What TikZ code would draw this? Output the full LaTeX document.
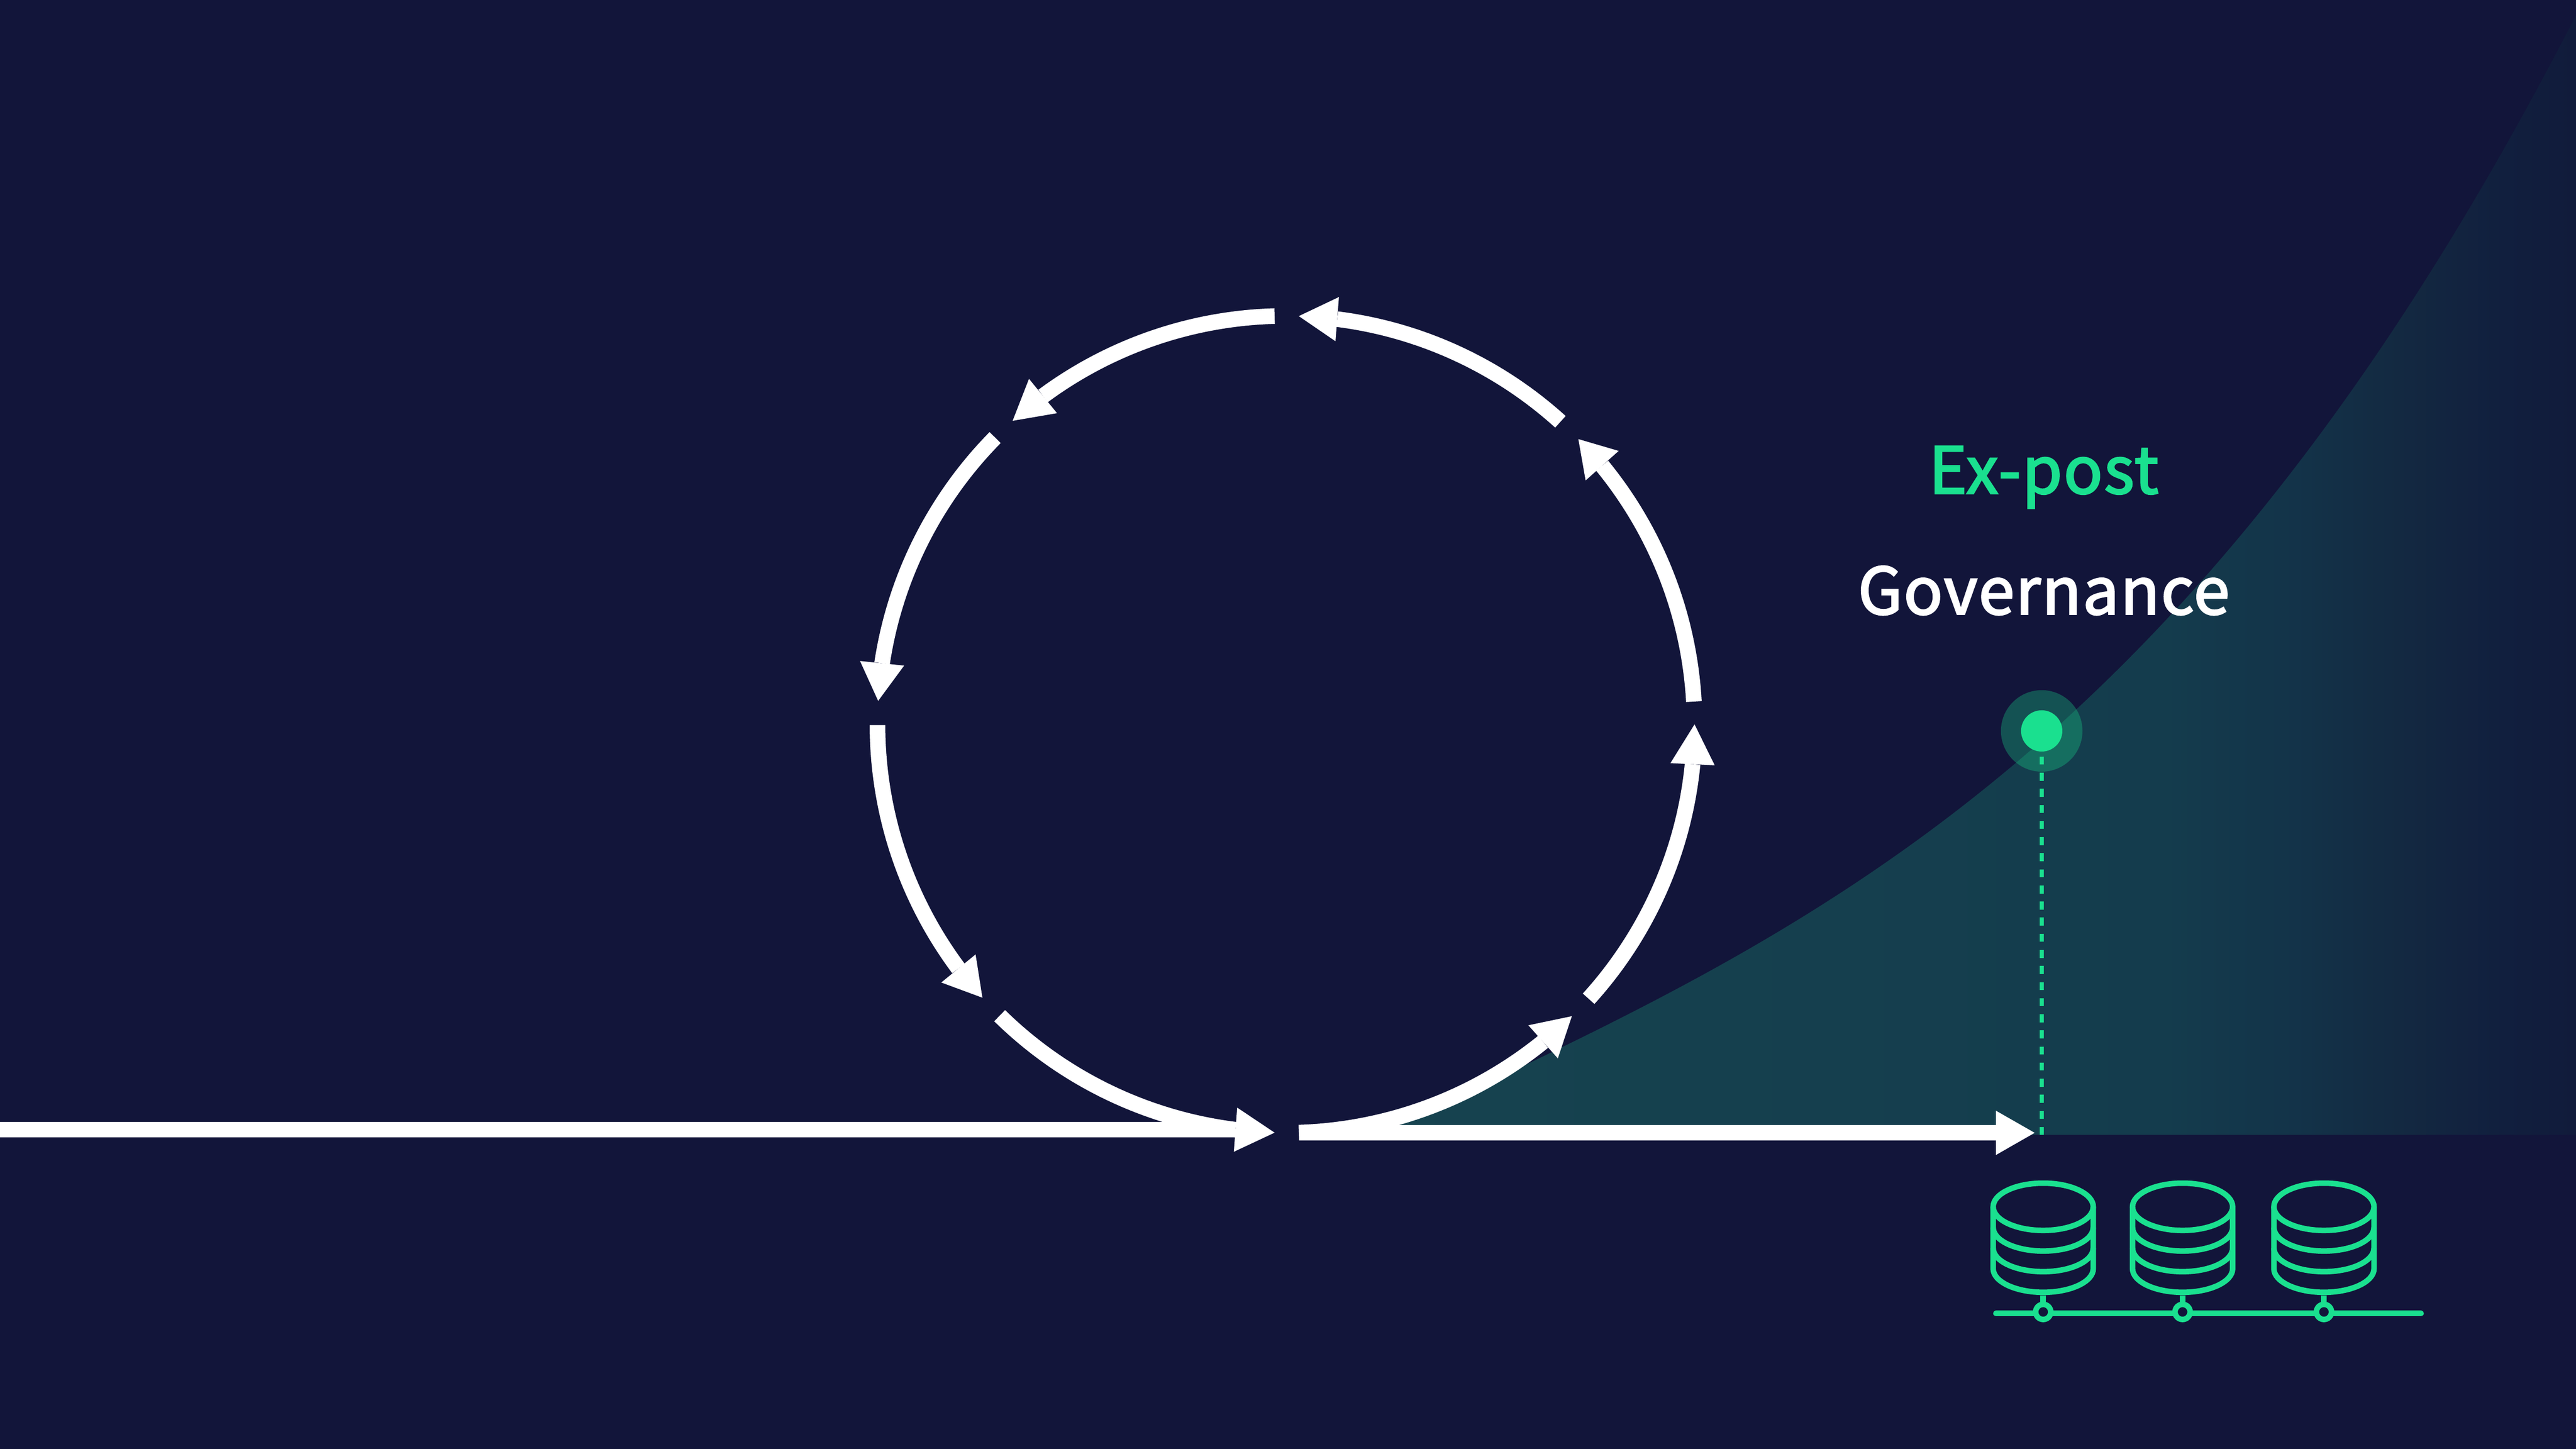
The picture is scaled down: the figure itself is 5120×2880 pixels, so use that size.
\documentclass[tikz,border=0pt]{standalone}
\usepackage{fontspec}
\newfontfamily\labfont[FakeBold=2.5,LetterSpace=2]{Noto Sans CJK JP}
\usetikzlibrary{calc}
\definecolor{bgc}{RGB}{18,21,58}
\definecolor{grn}{RGB}{26,224,143}
\definecolor{tealA}{RGB}{22,67,79}
\definecolor{tealB}{RGB}{20,60,77}
\definecolor{tealC}{RGB}{19,51,73}
\definecolor{tealD}{RGB}{19,41,65}
\definecolor{tealE}{RGB}{17,31,62}
\definecolor{tealF}{RGB}{17,27,59}
\pgfdeclarehorizontalshading{tealfade}{100bp}{color(0bp)=(tealA); color(25bp)=(tealA); color(57.8bp)=(tealB); color(63.3bp)=(tealC); color(67.6bp)=(tealD); color(72bp)=(tealE); color(75bp)=(tealF); color(100bp)=(tealF)}
\tikzset{
  arcline/.style={draw=white,line width=0.31cm},
  headfill/.style={fill=white,draw=none},
  dbline/.style={draw=grn,line width=0.11cm},
  lab/.style={inner sep=0pt,anchor=base,font=\labfont\fontsize{36.5pt}{40pt}\selectfont},
}
% #1 arc start angle, #2 shaft-end angle, #3 tip angle
\newcommand{\looparrow}[3]{%
  \draw[arcline] ([shift={(2556,1440)}]#1:812) arc[start angle=#1,end angle=#2,radius=812];
  \coordinate (B) at ([shift={(2556,1440)}]#2:812);
  \coordinate (T) at ([shift={(2556,1440)}]#3:812);
  \fill[headfill] (T) -- ($(B)!0.44cm!90:(T)$) -- ($(B)!0.44cm!-90:(T)$) -- cycle;
}
% #1 x centre
\newcommand{\dbicon}[1]{%
  \begin{scope}[shift={(#1,0)}]
    \draw[dbline] (0,481) ellipse[x radius=99.5,y radius=47];
    \draw[dbline] (-99.5,481) -- (-99.5,358) arc[start angle=180,end angle=360,x radius=99.5,y radius=47] -- (99.5,481);
    \draw[dbline] (-99.5,440) arc[start angle=180,end angle=360,x radius=99.5,y radius=47];
    \draw[dbline] (-99.5,399) arc[start angle=180,end angle=360,x radius=99.5,y radius=47];
    \draw[dbline] (0,305) -- (0,287);
    \draw[dbline,fill=bgc] (0,272) circle[radius=15];
  \end{scope}
}
\begin{document}
\begin{tikzpicture}[x=0.01cm,y=0.01cm]
\useasboundingbox (0,0) rectangle (5120,2880);
\fill[bgc] (0,0) rectangle (5120,2880);
% teal area
\shade[shading=tealfade] (2740,624) .. controls (3533,1005) and (4327,1305) .. (5120,2850) -- (5120,624) -- cycle;
% dashed drop line
\draw[grn,line width=0.09cm,dash pattern=on 0.16cm off 0.16cm] (4058,1376) -- (4058,624);
% dot
\fill[grn,opacity=0.3] (4058,1427) circle[radius=81];
\node[circle,fill=grn,minimum size=0.82cm,inner sep=0pt] (dot) at (4058,1427) {};
% labels
\node[lab,text=grn] (expost) at (4062,1899) {Ex-post};
\node[lab,text=white] (gov) at (4062,1659) {Governance};
% straight lines
\draw[arcline] (0,634.5) -- (2456,634.5);
\draw[arcline] (2582,628) -- (3967,628);
\coordinate (hb) at (3967,628);
\coordinate (ht) at (4044,628);
\fill[headfill] (ht) -- ($(hb)!0.44cm!90:(ht)$) -- ($(hb)!0.44cm!-90:(ht)$) -- cycle;
% loop
\looparrow{-88.2}{-51}{-45.6}
\looparrow{-42.2}{-5.6}{0}
\looparrow{3.2}{39.3}{44.3}
\looparrow{47.8}{82.8}{88.2}
\looparrow{91.6}{126.5}{132}
\looparrow{135.4}{171.4}{176.7}
\looparrow{180.1}{216.7}{222}
\looparrow{225.5}{262.9}{268.4}
% databases
\draw[dbline,line cap=round] (3967,269) -- (4812,269);
\dbicon{4061}
\dbicon{4338}
\dbicon{4619}
\end{tikzpicture}
\end{document}
